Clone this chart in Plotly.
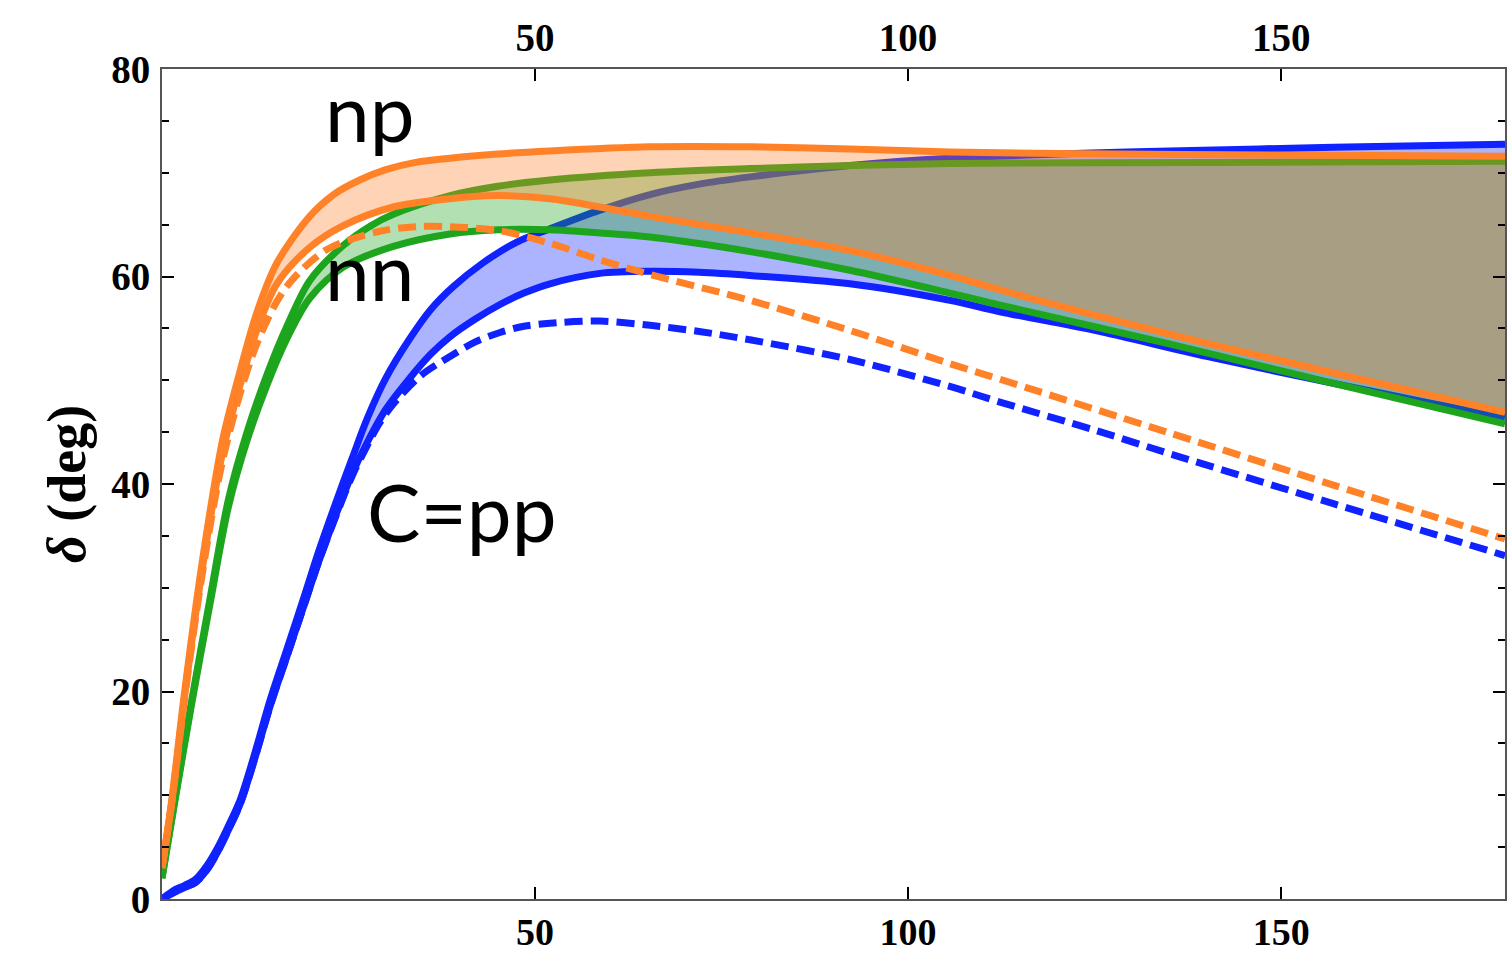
import plotly.graph_objects as go

# ---- data ----
pp_hi_x = [0, 1.5, 3, 4.5, 6, 7.5, 9, 10.5, 12.5, 14.5, 16.7, 18.9, 21, 23.3, 25.5, 27.5, 30, 33.2, 36, 39, 43, 47.5, 52, 58.7, 65.4, 72, 78.8, 92.2, 105.6, 120, 135, 157, 180]
pp_hi_y = [0, 0.8, 1.3, 1.9, 3.2, 5.0, 7.2, 9.6, 14.2, 19.2, 24.0, 28.8, 33.5, 38.2, 42.5, 46.3, 50.2, 54.0, 56.8, 59.0, 61.3, 63.3, 64.6, 66.4, 67.9, 68.9, 69.6, 70.7, 71.4, 71.8, 72.1, 72.45, 72.75]

pp_lo_x = [0, 1.5, 3, 4.5, 6, 7.5, 9, 10.5, 12.5, 14.5, 16.7, 18.9, 21, 23.3, 25.5, 27.5, 30, 33.2, 36, 38.6, 42, 45.3, 48.5, 52, 58.7, 65.4, 72, 78.8, 92.2, 105.6, 112.3, 125, 140, 157, 170, 180]
pp_lo_y = [0, 0.6, 1.1, 1.6, 2.8, 4.6, 6.8, 9.2, 13.7, 18.6, 23.3, 28.0, 32.5, 37.0, 41.0, 44.0, 47.2, 50.2, 52.5, 54.2, 55.9, 57.3, 58.4, 59.3, 60.3, 60.5, 60.4, 60.1, 59.3, 57.7, 56.6, 54.8, 52.3, 49.7, 47.8, 46.4]

pp_dash_x = [0, 1.5, 3, 4.5, 6, 7.5, 9, 10.5, 12.5, 14.5, 16.7, 18.9, 21, 23.3, 25.5, 27.5, 29, 31, 34.6, 38.6, 42, 45.3, 48.5, 52, 58.7, 65.4, 72, 78.8, 92.2, 105.6, 112.3, 125, 134.7, 157, 180]
pp_dash_y = [0, 0.6, 1.1, 1.6, 2.8, 4.6, 6.8, 9.2, 13.7, 18.6, 23.3, 28.0, 32.5, 36.9, 40.8, 43.7, 45.7, 47.7, 50.4, 52.3, 53.7, 54.6, 55.2, 55.5, 55.7, 55.3, 54.7, 53.9, 52.0, 49.4, 47.9, 45.2, 43.0, 38.1, 33.1]

nn_hi_x = [0, 1.7, 4.0, 6.4, 8.9, 11.4, 14.1, 16.8, 19.8, 24.3, 28, 31, 38.6, 45, 52, 65.4, 78.8, 92.2, 105.6, 140, 180]
nn_hi_y = [2.0, 9.5, 19.2, 28.8, 38.5, 45.0, 50.6, 55.3, 59.6, 63.0, 64.9, 66.0, 67.8, 68.7, 69.3, 70.0, 70.4, 70.7, 70.9, 71.0, 71.1]

nn_lo_x = [0, 1.7, 4.0, 6.4, 8.9, 11.4, 14.1, 16.8, 19.8, 24.3, 31, 38.6, 45, 52, 58.7, 65.4, 78.8, 92.2, 105.6, 112.3, 134.7, 157, 180]
nn_lo_y = [2.0, 9.3, 18.9, 28.3, 37.8, 44.2, 49.6, 54.1, 57.9, 60.9, 62.9, 64.1, 64.5, 64.5, 64.2, 63.8, 62.4, 60.6, 58.4, 57.25, 53.55, 49.7, 45.8]

np_hi_x = [0, 1.3, 2.9, 4.65, 6.7, 8.2, 10.5, 12.7, 15.4, 19.8, 23, 26.5, 30, 34, 38.6, 45, 52, 65.4, 78.8, 92.2, 105.6, 120, 150, 180]
np_hi_y = [3.0, 9.5, 19.2, 28.8, 38.5, 44.5, 51.0, 56.5, 61.3, 65.8, 67.9, 69.3, 70.3, 71.0, 71.4, 71.8, 72.1, 72.5, 72.5, 72.3, 72.0, 71.85, 71.7, 71.6]

np_lo_x = [0, 1.3, 2.9, 4.65, 6.7, 8.2, 10.5, 12.7, 15.4, 19.8, 24.3, 31, 38.6, 45, 52, 58.7, 65.4, 78.8, 92.2, 105.6, 112.3, 134.7, 157, 180]
np_lo_y = [3.0, 9.3, 18.8, 28.2, 37.6, 43.3, 49.6, 54.8, 59.3, 62.8, 64.9, 66.7, 67.5, 67.8, 67.5, 66.7, 65.8, 64.2, 62.5, 60.1, 58.7, 54.5, 50.7, 46.9]

np_dash_x = [0, 1.3, 2.9, 4.65, 6.7, 8.2, 10.5, 12.7, 15.4, 17.6, 22.1, 28.8, 34, 38.6, 45.3, 52, 58.7, 65.4, 78.8, 92.2, 105.6, 112.3, 134.7, 157, 180]
np_dash_y = [3.0, 9.2, 18.6, 27.8, 37.0, 42.5, 48.8, 53.5, 57.6, 59.8, 62.6, 64.3, 64.8, 64.8, 64.4, 63.2, 61.6, 60.2, 57.7, 54.8, 51.6, 50.1, 45.0, 39.9, 34.7]

x_ticks = [50, 100, 150]
y_ticks = [0, 20, 40, 60, 80]

band_labels = ["np", "nn", "C=pp"]
label_x = [21.6, 21.6, 27.2]
label_y = [76.0, 60.6, 37.4]

# ---- styles ----
BLUE = "#0f22ff"
GREEN = "#1ea51e"
ORANGE = "#ff8228"
ALPHA = 0.34


def rgba(hexc, a):
    h = hexc.lstrip("#")
    r, g, b = int(h[0:2], 16), int(h[2:4], 16), int(h[4:6], 16)
    return f"rgba({r},{g},{b},{a})"


LW = 7
fig = go.Figure()


def band(xh, yh, xl, yl, color):
    fig.add_trace(go.Scatter(x=xh, y=yh, mode="lines",
                             line=dict(color=color, width=LW, shape="spline", smoothing=0.9),
                             showlegend=False, hoverinfo="skip"))
    fig.add_trace(go.Scatter(x=xl, y=yl, mode="lines", fill="tonexty",
                             fillcolor=rgba(color, ALPHA),
                             line=dict(color=color, width=LW, shape="spline", smoothing=0.9),
                             showlegend=False, hoverinfo="skip"))


def dashed(x, y, color):
    fig.add_trace(go.Scatter(x=x, y=y, mode="lines",
                             line=dict(color=color, width=LW, dash="18px,8px", shape="spline", smoothing=0.9),
                             showlegend=False, hoverinfo="skip"))


band(pp_hi_x, pp_hi_y, pp_lo_x, pp_lo_y, BLUE)
dashed(pp_dash_x, pp_dash_y, BLUE)
band(nn_hi_x, nn_hi_y, nn_lo_x, nn_lo_y, GREEN)
band(np_hi_x, np_hi_y, np_lo_x, np_lo_y, ORANGE)
dashed(np_dash_x, np_dash_y, ORANGE)

# invisible trace to anchor the top x axis
fig.add_trace(go.Scatter(x=[None], y=[None], xaxis="x2", showlegend=False, hoverinfo="skip"))

for txt, lx, ly in zip(band_labels, label_x, label_y):
    fig.add_annotation(x=lx, y=ly, text=txt, showarrow=False, xanchor="left", yanchor="middle",
                       font=dict(family="Lato", size=80, color="black"))

# y-axis title as a rotated annotation (exact placement)
fig.add_annotation(xref="paper", yref="paper", x=(67 - 162) / 1343, y=(899 - 484) / 830,
                   text="<i>δ</i> (deg)", textangle=-90, showarrow=False,
                   xanchor="center", yanchor="middle",
                   font=dict(family="Liberation Serif", size=54, color="black", weight="bold"))

tickfont = dict(family="Liberation Serif", size=39, color="black", weight="bold")
tickfont_b = dict(family="Liberation Serif", size=38, color="black", weight="bold")
axline = "#555555"

fig.update_layout(
    width=1507, height=956,
    margin=dict(l=162, r=2, t=69, b=57),
    paper_bgcolor="white", plot_bgcolor="white",
    showlegend=False,
    xaxis=dict(range=[0, 180], tickvals=x_ticks, ticks="inside", ticklen=12, tickwidth=2,
               tickcolor="black", showline=True, linecolor=axline, linewidth=2, automargin=False,
               showgrid=False, zeroline=False, tickfont=tickfont_b, ticklabelstandoff=-2),
    xaxis2=dict(range=[0, 180], overlaying="x", side="top", tickvals=x_ticks, ticks="inside",
                ticklen=12, tickwidth=2, tickcolor="black", showline=True, linecolor=axline,
                linewidth=2, showgrid=False, zeroline=False, tickfont=tickfont, ticklabelstandoff=0,
                automargin=False),
    yaxis=dict(range=[0, 80], tickvals=y_ticks, ticks="inside", ticklen=12, tickwidth=2,
               tickcolor="black", showline=True, linecolor=axline, linewidth=2, mirror="ticks",
               showgrid=False, zeroline=False, tickfont=tickfont, ticklabelstandoff=2,
               automargin=False,
               minor=dict(ticks="inside", dtick=5, ticklen=7, tickwidth=2, tickcolor="black", showgrid=False)),
)

fig.write_html("out.html",
               config={"displayModeBar": False},
               post_script="document.body.style.margin='0';document.body.style.padding='0';"
                           "document.body.style.overflow='hidden';")
